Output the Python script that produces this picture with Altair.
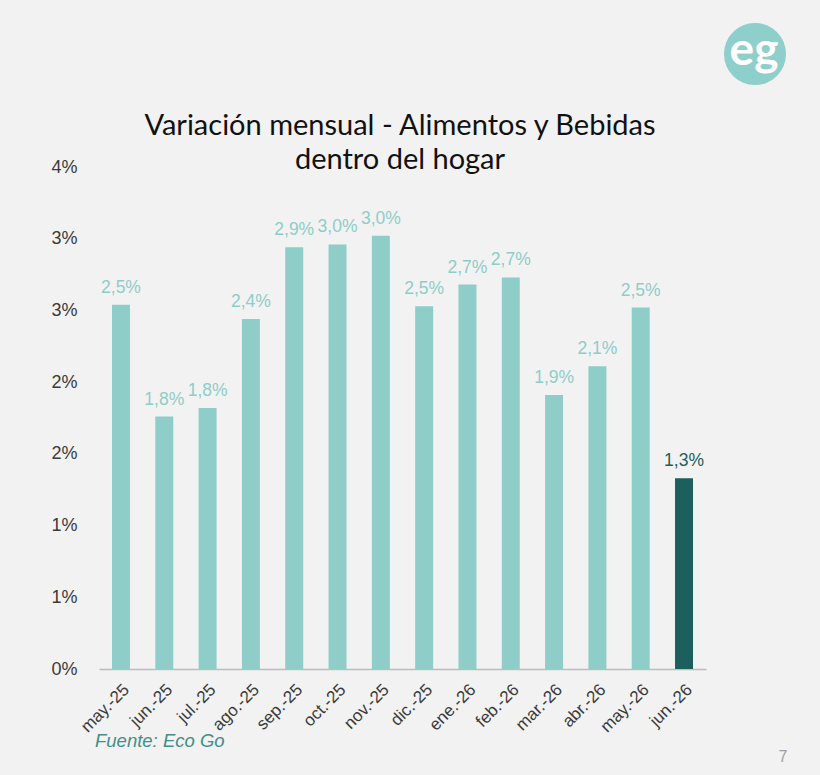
import altair as alt
import pandas as pd

meses = ["may.-25", "jun.-25", "jul.-25", "ago.-25", "sep.-25", "oct.-25", "nov.-25",
         "dic.-25", "ene.-26", "feb.-26", "mar.-26", "abr.-26", "may.-26", "jun.-26"]
valores = [2.54, 1.76, 1.82, 2.44, 2.94, 2.96, 3.02, 2.53, 2.68, 2.73, 1.91, 2.11, 2.52, 1.33]
destacado = "jun.-26"
y_ticks = [0, 0.5, 1.0, 1.5, 2.0, 2.5, 3.0, 3.5]

titulo = ["Variación mensual - Alimentos y Bebidas", "dentro del hogar"]
fuente = "Fuente: Eco Go"
pagina = "7"
logo = "eg"

LIGHT = "#8ecdc8"
DARK = "#1c5f5c"

df = pd.DataFrame({"mes": meses, "valor": valores})

W, H = 607, 502

x_enc = alt.X("mes:N", sort=meses, title=None,
              scale=alt.Scale(paddingInner=0.585, paddingOuter=0.3),
              axis=alt.Axis(labelAngle=-45, labelFont="Liberation Sans", labelFontSize=17,
                            labelColor="#3a3a3a", ticks=False, domainColor="#bdbdbd",
                            domainWidth=1.5, labelPadding=12))
y_enc = alt.Y("valor:Q", title=None,
              scale=alt.Scale(domain=[0, 3.5], nice=False),
              axis=alt.Axis(values=y_ticks, labelExpr="toString(round(datum.value)) + '%'",
                            grid=False, ticks=False, domain=False, labelFont="Liberation Sans",
                            labelFontSize=18, labelColor="#3a3a3a", labelPadding=22))

base = alt.Chart(df)

bars = base.mark_bar().encode(
    x=x_enc, y=y_enc,
    color=alt.condition(alt.datum.mes == destacado, alt.value(DARK), alt.value(LIGHT)),
)

labels = base.transform_calculate(
    lbl="replace(format(datum.valor, '.1f'), '.', ',') + '%'"
).mark_text(baseline="bottom", dy=-8, font="Liberation Sans", fontSize=17.5).encode(
    x=alt.X("mes:N", sort=meses),
    y=alt.Y("valor:Q"),
    text="lbl:N",
    color=alt.condition(alt.datum.mes == destacado, alt.value(DARK), alt.value(LIGHT)),
)

def fixed_text(txt, x, y, **kw):
    return alt.Chart(pd.DataFrame({"t": [txt]})).mark_text(**kw).encode(
        x=alt.value(x), y=alt.value(y), text="t:N")

t1 = fixed_text(titulo[0], 301, -41, align="center", baseline="middle", font="Lato",
                fontSize=29, color="#111111")
t2 = fixed_text(titulo[1], 301, -7, align="center", baseline="middle", font="Lato",
                fontSize=29, color="#111111")

src = fixed_text(fuente, -4, 574, align="left", baseline="middle", font="Liberation Sans",
                 fontSize=18.5, fontStyle="italic", color="#3f8f8a")

pg = fixed_text(pagina, 684, 590, align="center", baseline="middle", font="Liberation Sans",
                fontSize=16, color="#a0a0a0")

circ = alt.Chart(pd.DataFrame({"t": [logo]})).mark_circle(size=3850, opacity=1, color="#8fcfcb").encode(
    x=alt.value(656), y=alt.value(-113))
logo_txt = fixed_text(logo, 655, -116, align="center", baseline="middle", font="Lato",
                      fontSize=46, fontWeight="bold", color="white")

chart = alt.layer(bars, labels, t1, t2, src, pg, circ, logo_txt).properties(
    width=W, height=H,
    background="#f2f2f2",
    padding={"left": 99, "top": 167, "right": 114, "bottom": 106},
    autosize=alt.AutoSizeParams(type="none"),
).configure_view(stroke=None)

chart.save("out.html", embed_options={"renderer": "svg", "actions": False})
